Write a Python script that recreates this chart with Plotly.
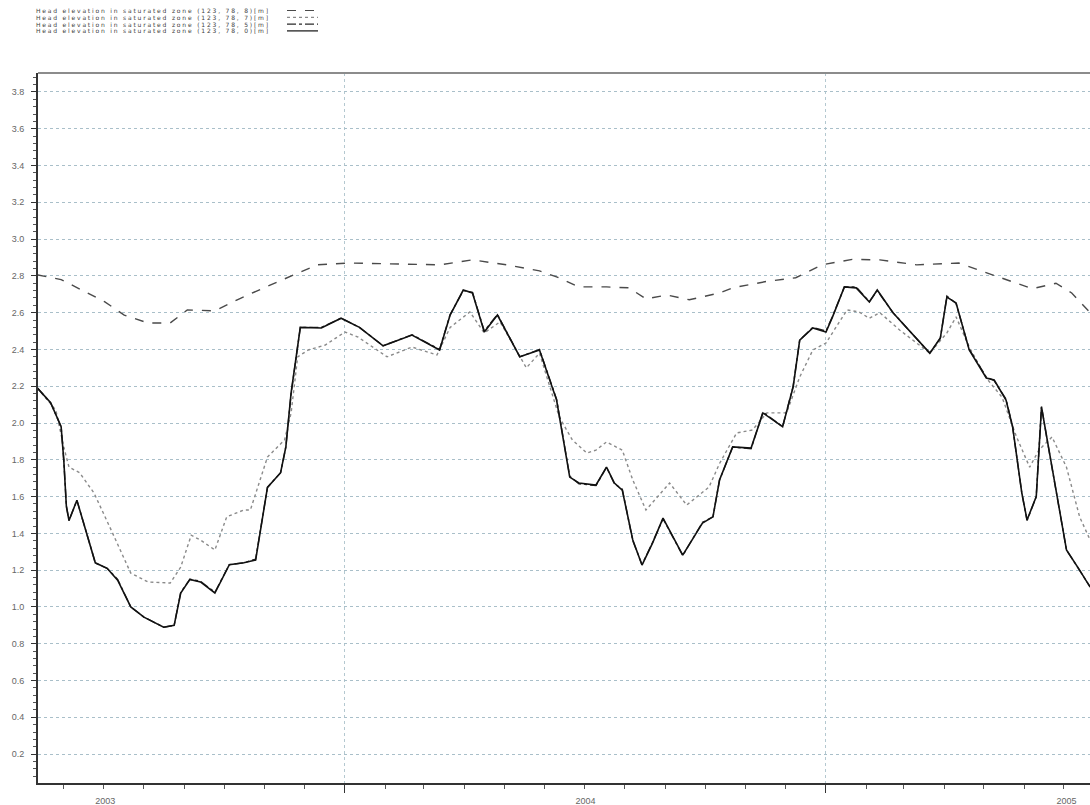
import plotly.graph_objects as go

# ---- data: simulated head elevation [m] at grid cell (123, 78) for several layers ----
dates_l8 = ["2003-05-12", "2003-05-30", "2003-06-19", "2003-07-02", "2003-07-17", "2003-08-04",
            "2003-08-21", "2003-09-03", "2003-09-24", "2003-10-11", "2003-11-05", "2003-11-26",
            "2003-12-11", "2004-01-05", "2004-02-11", "2004-03-13", "2004-04-07", "2004-05-03",
            "2004-05-28", "2004-06-10", "2004-06-27", "2004-07-18", "2004-08-04", "2004-08-17",
            "2004-09-02", "2004-09-19", "2004-10-12", "2004-10-22", "2004-11-17", "2004-12-09",
            "2004-12-29", "2005-01-21", "2005-02-11", "2005-03-11", "2005-04-12", "2005-05-08",
            "2005-06-07", "2005-06-25", "2005-07-07", "2005-07-21"]
head_l8 = [2.805, 2.78, 2.707, 2.66, 2.587, 2.544,
           2.544, 2.615, 2.61, 2.67, 2.75, 2.815,
           2.86, 2.87, 2.865, 2.86, 2.887, 2.86,
           2.827, 2.795, 2.74, 2.74, 2.735, 2.675,
           2.696, 2.67, 2.707, 2.735, 2.77, 2.79,
           2.86, 2.89, 2.887, 2.86, 2.87, 2.805,
           2.73, 2.76, 2.707, 2.6]

dates_l7 = ["2003-05-12", "2003-05-26", "2003-06-01", "2003-06-05", "2003-06-13", "2003-06-24",
            "2003-07-06", "2003-07-22", "2003-08-04", "2003-08-21", "2003-08-29", "2003-09-06",
            "2003-09-13", "2003-09-24", "2003-10-03", "2003-10-16", "2003-10-21", "2003-11-03",
            "2003-11-16", "2003-11-21", "2003-11-26", "2003-12-04", "2003-12-17", "2004-01-01",
            "2004-01-11", "2004-02-02", "2004-02-21", "2004-03-11", "2004-03-21", "2004-04-05",
            "2004-04-16", "2004-04-28", "2004-05-18", "2004-05-28", "2004-06-12", "2004-06-22",
            "2004-07-03", "2004-07-10", "2004-07-18", "2004-07-30", "2004-08-07", "2004-08-17",
            "2004-09-04", "2004-09-17", "2004-10-04", "2004-10-12", "2004-10-25", "2004-11-06",
            "2004-11-17", "2004-12-02", "2004-12-12", "2004-12-22", "2005-01-01", "2005-01-17",
            "2005-01-26", "2005-02-03", "2005-02-11", "2005-02-26", "2005-03-21", "2005-04-03",
            "2005-04-10", "2005-04-20", "2005-05-03", "2005-05-15", "2005-05-26", "2005-06-05",
            "2005-06-12", "2005-06-22", "2005-07-03", "2005-07-13", "2005-07-21"]
head_l7 = [2.19, 2.07, 1.87, 1.76, 1.73, 1.62,
           1.435, 1.184, 1.136, 1.13, 1.217, 1.39,
           1.364, 1.31, 1.49, 1.527, 1.527, 1.815,
           1.908, 2.055, 2.36, 2.397, 2.424, 2.495,
           2.467, 2.36, 2.413, 2.37, 2.52, 2.604,
           2.49, 2.55, 2.30, 2.38, 2.033, 1.908,
           1.837, 1.853, 1.897, 1.853, 1.69, 1.527,
           1.674, 1.554, 1.652, 1.78, 1.946, 1.962,
           2.055, 2.055, 2.25, 2.397, 2.435, 2.615,
           2.604, 2.57, 2.6, 2.506, 2.38, 2.49,
           2.577, 2.413, 2.245, 2.14, 1.924, 1.76,
           1.853, 1.924, 1.76, 1.49, 1.364]

dates_l0 = ["2003-05-12", "2003-05-22", "2003-05-30", "2003-06-01", "2003-06-03", "2003-06-05",
            "2003-06-11", "2003-06-16", "2003-06-25", "2003-07-04", "2003-07-12", "2003-07-22",
            "2003-08-01", "2003-08-16", "2003-08-24", "2003-08-29", "2003-09-05", "2003-09-13",
            "2003-09-24", "2003-10-05", "2003-10-16", "2003-10-25", "2003-10-29", "2003-11-03",
            "2003-11-13", "2003-11-17", "2003-11-21", "2003-11-28", "2003-12-14", "2003-12-29",
            "2004-01-12", "2004-01-30", "2004-02-21", "2004-03-13", "2004-03-21", "2004-03-31",
            "2004-04-07", "2004-04-16", "2004-04-26", "2004-05-13", "2004-05-28", "2004-06-10",
            "2004-06-20", "2004-06-27", "2004-07-10", "2004-07-18", "2004-07-24", "2004-07-30",
            "2004-08-07", "2004-08-14", "2004-08-22", "2004-08-30", "2004-09-14", "2004-09-29",
            "2004-10-07", "2004-10-12", "2004-10-22", "2004-11-05", "2004-11-14", "2004-11-29",
            "2004-12-07", "2004-12-12", "2004-12-22", "2005-01-01", "2005-01-06", "2005-01-15",
            "2005-01-24", "2005-02-03", "2005-02-09", "2005-02-21", "2005-03-21", "2005-03-29",
            "2005-04-03", "2005-04-10", "2005-04-20", "2005-05-03", "2005-05-09", "2005-05-18",
            "2005-05-23", "2005-05-30", "2005-06-03", "2005-06-10", "2005-06-14", "2005-06-18",
            "2005-07-03", "2005-07-13", "2005-07-21"]
head_l0 = [2.19, 2.11, 1.98, 1.80, 1.545, 1.47,
           1.58, 1.456, 1.24, 1.21, 1.146, 1.0,
           0.945, 0.89, 0.90, 1.076, 1.15, 1.136,
           1.076, 1.23, 1.24, 1.255, 1.435, 1.65,
           1.73, 1.87, 2.164, 2.52, 2.517, 2.57,
           2.52, 2.42, 2.478, 2.397, 2.587, 2.723,
           2.707, 2.495, 2.587, 2.36, 2.397, 2.125,
           1.706, 1.674, 1.663, 1.76, 1.674, 1.635,
           1.364, 1.228, 1.347, 1.483, 1.282, 1.456,
           1.49, 1.69, 1.87, 1.864, 2.055, 1.98,
           2.196, 2.45, 2.517, 2.495, 2.577, 2.74,
           2.735, 2.658, 2.723, 2.6, 2.38, 2.462,
           2.685, 2.653, 2.397, 2.245, 2.234, 2.125,
           1.98, 1.62, 1.473, 1.60, 2.087, 1.924,
           1.31, 1.2, 1.108]

# layer 5 runs on top of layer 0 for the whole period
dates_l5 = dates_l0
head_l5 = [2.19, 2.11, 1.98, 1.80, 1.55, 1.47,
           1.58, 1.46, 1.24, 1.21, 1.15, 1.0,
           0.945, 0.89, 0.90, 1.08, 1.15, 1.14,
           1.08, 1.23, 1.24, 1.26, 1.44, 1.65,
           1.73, 1.87, 2.16, 2.52, 2.52, 2.57,
           2.52, 2.42, 2.48, 2.40, 2.59, 2.72,
           2.71, 2.50, 2.59, 2.36, 2.40, 2.13,
           1.71, 1.67, 1.66, 1.76, 1.67, 1.64,
           1.36, 1.23, 1.35, 1.48, 1.28, 1.46,
           1.49, 1.69, 1.87, 1.86, 2.06, 1.98,
           2.20, 2.45, 2.52, 2.50, 2.58, 2.74,
           2.74, 2.66, 2.72, 2.60, 2.38, 2.46,
           2.69, 2.65, 2.40, 2.25, 2.23, 2.13,
           1.98, 1.62, 1.47, 1.60, 2.09, 1.92,
           1.31, 1.20, 1.11]

series_names = ["Head elevation in saturated zone (123, 78, 8)[m]",
                "Head elevation in saturated zone (123, 78, 7)[m]",
                "Head elevation in saturated zone (123, 78, 5)[m]",
                "Head elevation in saturated zone (123, 78, 0)[m]"]

y_tick_vals = [0.2, 0.4, 0.6, 0.8, 1.0, 1.2, 1.4, 1.6, 1.8, 2.0,
               2.2, 2.4, 2.6, 2.8, 3.0, 3.2, 3.4, 3.6, 3.8]
y_tick_text = ["0.2", "0.4", "0.6", "0.8", "1.0", "1.2", "1.4", "1.6", "1.8", "2.0",
               "2.2", "2.4", "2.6", "2.8", "3.0", "3.2", "3.4", "3.6", "3.8"]

# ---- styles ----
styles = [
    dict(color="#4a4a4a", dash="dash", width=1.4),
    dict(color="#8a8a8a", dash="dot", width=1.4),
    dict(color="#2a2a2a", dash="dashdot", width=1.4),
    dict(color="#111111", dash="solid", width=1.6),
]

fig = go.Figure()
traces = [(dates_l8, head_l8), (dates_l7, head_l7), (dates_l5, head_l5), (dates_l0, head_l0)]
for (d, v), name, st in zip(traces, series_names, styles):
    fig.add_trace(go.Scatter(x=d, y=v, mode="lines", name=name, line=st,
                             showlegend=False))

# compact legend block above the plot (text + line sample per series)
W, H, L, T = 1090, 805, 38, 73
plot_w, plot_h = W - L, H - T - 22
row_px = [10.5, 17.3, 24.1, 30.9]
for name, st, ry in zip(series_names, styles, row_px):
    yp = 1 + (T - ry) / plot_h
    fig.add_annotation(xref="paper", yref="paper", x=(34 - L) / plot_w, y=yp,
                       xanchor="left", yanchor="middle", showarrow=False,
                       text=f'<span style="letter-spacing:1.8px">{name}</span>',
                       font=dict(family="DejaVu Sans", size=6, color="#404040"))
    fig.add_shape(type="line", xref="paper", yref="paper",
                  x0=(287 - L) / plot_w, x1=(318 - L) / plot_w, y0=yp, y1=yp,
                  line=dict(color=st["color"], dash=st["dash"], width=1.2))

# top frame line
fig.add_shape(type="line", xref="paper", yref="paper", x0=0, x1=1, y0=1, y1=1,
              line=dict(color="#8c8c8c", width=2))

fig.update_layout(
    width=W, height=H,
    margin=dict(l=L, r=0, t=T, b=22),
    paper_bgcolor="white", plot_bgcolor="white",
    font=dict(family="Liberation Sans", size=9, color="#666666"),
)

fig.update_xaxes(
    type="date",
    range=["2003-05-12 09:36", "2005-07-20 21:36"],
    tick0="2003-01-01", dtick="M12", ticklabelmode="period", tickformat="%Y",
    ticks="outside", ticklen=8, tickcolor="#333333", tickwidth=1,
    showgrid=True, gridcolor="#b4c8d0", griddash="dot", gridwidth=1,
    minor=dict(dtick="M1", ticks="outside", ticklen=4, tickcolor="#555555", showgrid=False),
    showline=True, linecolor="#333333", linewidth=2,
    zeroline=False,
    tickfont=dict(family="Liberation Sans", size=9, color="#666666"),
)

fig.update_yaxes(
    range=[0.043, 3.903],
    tickvals=y_tick_vals, ticktext=y_tick_text,
    ticks="outside", ticklen=5, tickcolor="#333333", tickwidth=1,
    ticklabelstandoff=5,
    showgrid=True, gridcolor="#a9bfc9", griddash="dot", gridwidth=1,
    minor=dict(dtick=0.04, tick0=0.2, ticks="outside", ticklen=3, tickcolor="#555555", showgrid=False),
    showline=True, linecolor="#333333", linewidth=2,
    zeroline=False,
    tickfont=dict(family="Liberation Sans", size=9, color="#666666"),
)

fig.write_html("out.html")
